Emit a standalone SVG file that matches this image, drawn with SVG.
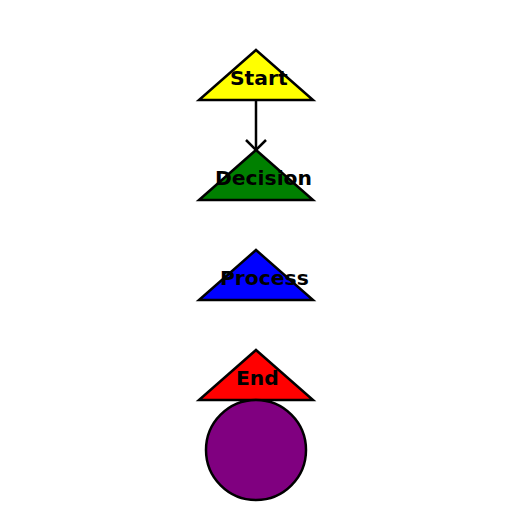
<svg xmlns="http://www.w3.org/2000/svg" width="512" height="512" viewBox="0 0 512 512">
<style>
.shape{stroke:#000;stroke-width:2.5;stroke-linejoin:miter}
.label{font-family:"DejaVu Sans",sans-serif;font-weight:bold;font-size:20.3px;fill:#000}
.edge{stroke:#000;stroke-width:2.5;fill:none}
</style>
<rect width="512" height="512" fill="#fff"/>
<g id="connectors">
<path class="edge" d="M256,100 L256,150"/>
<path class="edge" d="M246,140 L256,150 L266,140"/>
</g>
<g id="start">
<polygon class="shape" fill="#ffff00" points="256,50 313,100 199,100"/>
<text class="label" x="230" y="85">Start</text>
</g>
<g id="decision">
<polygon class="shape" fill="#008000" points="256,150 313,200 199,200"/>
<text class="label" x="215" y="185">Decision</text>
</g>
<g id="process">
<polygon class="shape" fill="#0000ff" points="256,250 313,300 199,300"/>
<text class="label" x="220" y="285">Process</text>
</g>
<g id="end">
<polygon class="shape" fill="#ff0000" points="256,350 313,400 199,400"/>
<text class="label" x="236" y="385">End</text>
</g>
<g id="circle">
<circle class="shape" fill="#800080" cx="256" cy="450" r="50"/>
</g>
</svg>
